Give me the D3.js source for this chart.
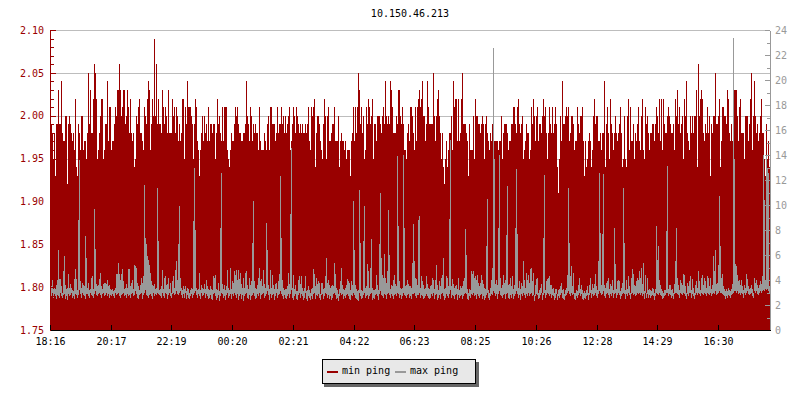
<!DOCTYPE html>
<html><head><meta charset="utf-8">
<style>html,body{margin:0;padding:0;background:#fff}svg{display:block}text{font-family:"DejaVu Sans Mono",monospace;font-size:10px}</style>
<script src="https://cdn.jsdelivr.net/npm/d3@7"></script></head><body><script>
const titleText="10.150.46.213";
const seriesNames=["min ping","max ping"];
const timeLabels=["18:16","20:17","22:19","00:20","02:21","04:22","06:23","08:25","10:26","12:28","14:29","16:30"];
const timeTickIndex=[0,61,121,182,243,304,364,425,486,547,607,668];
const leftTicks=[1.75,1.80,1.85,1.90,1.95,2.00,2.05,2.10];
const rightTicks=[0,2,4,6,8,10,12,14,16,18,20,22,24];
const minPing=[
1.99,1.99,1.98,1.95,1.98,1.93,1.99,1.99,2.03,1.99,1.99,2.04,1.98,1.97,1.97,2.00,2.00,1.92,1.99,2.00,
1.99,1.98,1.97,1.98,1.96,2.02,1.94,1.93,1.99,1.98,1.96,2.00,2.00,1.96,1.97,1.97,1.95,1.98,2.05,1.99,
2.03,1.98,1.98,2.02,2.06,2.05,2.02,1.95,1.96,1.98,2.00,2.02,2.02,1.95,1.96,1.99,1.99,2.04,1.97,2.01,
2.01,1.96,1.97,1.97,1.99,2.01,2.00,2.03,2.03,2.06,2.03,2.00,2.01,2.03,2.03,1.99,2.00,2.03,2.01,1.98,
2.02,1.98,1.97,1.98,1.94,1.95,2.00,1.99,2.01,2.02,1.98,1.98,1.97,1.96,2.01,2.00,1.99,2.02,2.04,2.03,
1.96,1.99,2.02,2.00,2.09,2.00,2.06,1.99,2.02,1.99,1.99,1.98,2.03,2.01,1.99,2.01,2.00,1.98,2.03,1.98,
1.98,1.98,2.02,2.00,2.01,1.98,2.01,2.00,1.97,1.99,1.97,1.98,2.02,2.02,1.95,2.01,1.99,2.04,2.01,2.01,
2.01,2.00,1.99,1.95,1.99,2.02,2.01,1.97,1.96,1.93,1.96,1.98,2.00,1.97,2.00,1.98,1.99,1.97,2.01,1.97,
1.99,1.99,1.98,1.99,1.99,1.95,1.98,2.02,1.99,2.00,1.98,1.97,2.01,1.97,2.01,2.01,2.01,1.96,1.95,1.94,
1.96,1.98,1.97,1.97,1.99,2.01,2.00,2.01,1.99,1.98,1.98,1.97,1.97,1.98,1.98,1.99,2.04,2.00,1.99,1.97,
2.01,2.00,1.97,1.99,1.98,1.99,1.98,1.98,1.96,2.01,1.97,1.96,1.96,1.96,1.98,1.97,1.96,1.99,2.00,1.96,
2.01,2.01,1.99,1.99,1.99,1.97,1.98,2.01,1.98,1.99,1.99,2.01,1.99,2.00,1.98,2.00,1.98,1.99,2.00,2.01,
1.96,1.97,1.99,2.01,2.00,1.98,2.01,2.00,1.99,1.98,1.99,1.98,1.99,1.98,1.98,1.99,1.98,1.99,2.01,1.97,
1.96,2.01,2.00,2.01,2.02,1.94,1.98,2.00,2.00,1.99,1.97,1.96,1.95,1.99,2.02,2.00,1.95,2.00,2.01,1.97,
1.97,1.98,1.99,1.99,2.01,1.97,1.97,1.97,2.00,1.94,1.97,1.98,1.97,1.97,1.96,1.97,1.95,1.96,1.96,1.96,
1.93,1.97,1.98,2.01,1.97,2.01,1.98,2.01,2.05,2.03,1.99,2.01,1.98,2.00,1.95,1.96,2.01,1.99,2.02,2.01,
1.99,2.00,2.02,1.95,1.99,1.99,1.97,2.00,2.00,2.00,1.99,1.98,2.00,2.01,1.99,2.04,2.00,1.99,2.00,1.99,
2.04,2.03,2.01,1.98,1.98,1.98,2.00,1.99,2.03,2.03,2.00,1.99,2.01,1.99,1.96,1.96,1.95,1.98,1.99,1.97,
2.01,2.01,2.00,1.98,1.96,2.01,1.97,2.01,2.02,2.03,2.01,2.02,2.04,2.00,2.00,1.97,1.99,2.04,2.01,1.99,
1.99,1.99,1.99,2.05,2.00,1.97,2.00,2.02,2.03,2.00,1.98,1.95,1.98,1.94,1.92,1.95,1.97,1.94,1.96,1.98,
1.98,2.00,1.96,2.04,2.01,2.02,2.02,1.97,2.02,1.97,1.98,2.02,2.05,1.99,1.99,1.99,1.98,1.97,1.93,1.99,
1.96,1.96,1.96,2.00,1.95,2.02,2.00,2.00,1.99,1.99,1.98,1.99,2.00,1.99,1.95,1.99,2.00,1.98,1.97,1.96,
1.98,1.97,1.99,1.97,1.97,1.97,1.97,1.97,1.96,1.97,1.97,2.00,1.95,1.98,1.99,1.99,1.99,1.98,1.96,1.97,
1.97,1.99,1.99,2.01,2.01,1.99,1.98,2.01,2.02,1.99,1.98,1.99,2.00,1.95,1.96,1.97,1.99,1.98,1.98,1.95,
1.96,2.01,1.99,2.02,2.00,1.97,2.00,2.01,1.97,1.99,1.99,1.98,2.00,2.02,2.00,2.01,1.98,1.95,1.98,2.01,
1.99,1.98,2.01,1.98,1.99,2.01,1.99,1.94,1.91,1.95,2.00,1.97,2.04,1.99,1.99,2.00,2.01,2.00,2.01,1.97,
1.98,2.00,2.00,1.99,1.96,1.97,1.97,2.01,1.99,1.98,2.00,2.00,2.01,1.97,1.93,1.97,1.94,1.95,1.97,1.98,
1.97,1.94,1.96,2.00,2.02,1.99,2.00,2.00,1.97,1.97,1.98,1.96,1.98,1.98,2.04,1.94,1.99,2.01,1.98,1.95,
2.02,1.99,1.98,1.96,1.98,2.00,1.98,1.97,1.98,1.99,2.01,1.98,1.94,1.95,2.00,1.95,1.94,2.00,2.02,1.96,
2.01,1.97,1.97,1.99,1.95,1.98,1.97,1.99,2.01,1.97,1.96,2.00,2.02,1.96,1.95,2.01,1.99,2.00,1.98,1.96,
1.98,1.98,1.99,1.99,1.97,1.99,2.01,2.00,1.98,2.02,1.97,2.02,1.96,2.02,1.99,1.98,1.98,2.00,2.01,2.00,
1.99,1.98,1.98,1.99,1.96,2.02,2.00,2.03,1.99,2.01,1.98,1.99,2.00,1.95,2.02,2.00,2.04,1.98,1.97,1.96,
2.00,1.98,2.00,1.98,2.00,2.00,2.03,1.94,2.06,2.00,2.02,2.03,2.02,1.98,1.97,1.99,1.98,2.01,1.98,2.00,
1.93,1.99,1.98,2.00,2.00,2.05,1.99,1.99,2.00,2.02,1.94,1.97,2.01,2.01,2.00,2.00,1.99,2.03,2.02,1.98,
1.97,1.99,1.97,2.00,2.03,2.03,2.03,2.00,1.97,2.01,2.02,1.98,1.98,1.98,1.95,2.00,2.00,2.00,1.97,1.99,
2.02,2.05,1.96,2.00,2.04,2.00,1.98,1.99,1.97,1.98,2.00,2.02,1.98,1.98,1.95,1.93,1.99,1.95,1.97,1.94];
const maxPing=[
3.0,3.5,4.1,3.3,3.4,3.3,3.6,4.0,6.4,4.1,4.1,3.5,3.0,4.7,5.9,3.6,3.3,3.4,4.5,3.4,
3.7,3.4,3.2,3.1,4.1,4.9,4.1,3.2,8.8,13.6,3.9,3.4,3.8,3.6,3.5,7.5,5.8,3.4,3.8,3.2,
3.3,4.2,4.3,3.3,9.7,6.5,3.7,3.5,3.6,4.1,4.6,3.5,3.3,3.7,3.8,3.8,3.7,4.0,3.5,3.6,
3.3,3.2,3.3,3.1,3.2,3.4,4.5,4.5,5.4,4.5,4.0,4.5,4.9,3.9,3.3,3.4,3.7,3.4,4.9,4.9,
3.5,3.8,4.0,3.3,5.2,5.1,5.0,3.8,3.5,3.2,3.6,4.2,3.8,4.3,11.6,7.4,6.9,5.9,5.6,5.2,
4.6,3.9,3.6,3.5,3.7,3.3,3.4,11.4,7.1,3.2,3.3,3.5,4.8,3.3,4.2,4.3,3.6,3.7,4.2,3.3,
3.8,3.0,3.9,4.3,3.4,4.8,5.5,4.0,6.9,9.9,4.2,3.4,3.2,3.5,3.3,3.5,3.1,3.4,3.3,3.0,
3.2,3.4,3.3,8.7,13.0,8.0,3.4,3.2,3.3,4.6,3.2,3.6,3.4,3.3,3.7,3.3,4.0,3.5,3.3,3.2,
3.5,3.3,3.2,4.3,4.2,4.4,3.3,3.2,3.8,3.1,8.2,12.6,3.7,3.3,3.6,3.2,3.5,4.8,3.4,3.2,
5.0,3.3,3.9,3.8,4.7,4.4,4.8,4.0,4.8,4.1,4.6,3.7,3.4,4.2,3.4,4.6,4.7,3.6,3.3,4.2,
3.6,3.9,7.0,10.3,3.9,3.4,3.3,3.6,4.2,5.0,3.9,4.1,3.5,4.8,3.7,3.4,8.6,6.4,3.6,3.3,
4.8,3.4,4.4,3.6,3.3,3.7,3.8,3.3,3.9,4.5,12.3,7.4,4.0,3.4,3.2,3.3,3.3,3.5,4.6,3.7,
9.3,14.6,3.4,4.4,3.3,3.6,3.1,3.1,4.0,4.3,3.7,4.3,3.4,3.1,3.4,4.3,3.1,3.2,3.5,3.2,
3.0,3.3,3.4,4.9,4.5,3.5,4.2,3.7,3.9,3.8,2.9,3.8,3.8,3.3,3.4,4.3,5.8,3.8,4.0,3.6,
3.4,3.5,3.6,3.5,5.4,4.5,3.4,3.2,2.9,3.3,3.9,5.0,3.6,3.3,3.2,3.4,3.6,4.1,3.9,3.8,
3.2,3.9,3.6,10.3,6.4,3.6,3.3,3.1,3.2,11.2,7.0,3.2,3.1,7.1,9.9,3.4,3.5,5.3,4.7,3.4,
5.0,7.3,3.4,3.2,3.2,3.3,4.4,3.6,3.2,6.9,11.0,5.8,4.4,4.2,6.1,4.2,3.8,4.7,9.6,6.0,
3.3,3.6,3.5,4.0,4.4,3.7,3.5,13.9,8.3,3.9,3.4,3.3,3.4,14.0,8.2,3.5,3.6,4.0,3.7,3.5,
3.5,3.4,5.4,8.5,5.5,4.2,4.1,3.6,8.8,9.1,3.4,4.3,3.9,3.6,3.3,3.4,4.3,3.7,3.4,3.3,
3.5,3.6,4.2,4.0,3.3,4.0,5.2,3.6,3.2,3.9,3.5,4.2,4.4,5.8,3.3,3.4,4.3,4.2,3.5,8.9,
15.2,3.5,4.1,3.7,3.4,3.5,3.6,3.3,4.2,3.2,3.5,3.4,3.5,3.9,4.2,8.1,6.0,3.3,3.0,3.3,
3.2,4.7,4.5,4.7,4.2,4.3,4.0,4.4,3.8,3.5,3.8,4.4,4.0,3.7,3.4,3.3,6.7,10.5,3.2,3.0,
3.4,4.0,5.0,22.6,13.7,3.7,4.0,3.6,8.2,14.0,4.2,3.4,3.6,4.4,3.8,4.0,7.6,11.5,3.6,3.7,
4.2,3.5,4.3,3.3,3.6,8.2,12.9,7.7,3.4,3.9,3.3,3.8,3.5,5.5,4.0,3.4,4.6,4.0,4.4,3.8,
4.9,5.0,3.9,4.6,2.8,3.6,4.1,4.2,3.0,3.2,3.4,3.7,3.0,7.4,12.4,3.2,3.9,4.1,4.2,4.3,
3.6,3.6,3.3,3.4,3.0,3.3,3.3,2.9,3.2,3.3,3.5,3.8,3.2,3.3,2.9,3.2,3.4,4.4,11.4,7.0,
4.3,5.1,3.5,4.6,3.0,3.0,3.2,3.1,3.6,4.2,3.3,3.6,3.2,3.0,3.1,3.0,3.2,3.5,3.0,3.6,
4.2,3.2,3.7,3.4,3.7,4.5,3.5,3.2,5.5,12.6,7.8,3.6,7.7,12.5,3.6,3.4,3.8,3.9,4.2,3.3,
3.7,3.5,4.0,3.2,8.2,5.3,3.3,3.9,4.0,3.9,3.1,3.4,3.8,11.4,7.0,3.2,4.0,3.3,4.3,3.5,
3.0,4.2,4.9,4.5,3.6,3.5,3.9,4.2,4.0,4.7,4.2,5.0,3.7,5.4,3.1,4.4,3.0,4.2,3.2,3.3,
3.2,3.1,3.4,3.3,3.0,3.3,8.3,5.6,6.7,4.0,3.6,3.3,3.1,3.0,3.2,3.2,7.9,13.1,3.3,3.6,
3.6,3.2,3.3,3.0,3.7,5.5,8.2,4.2,3.6,3.2,4.0,3.8,3.6,4.5,4.4,3.5,3.0,3.8,3.5,3.9,
4.3,3.2,4.1,3.4,3.0,3.6,3.9,3.4,4.7,3.9,3.2,4.2,4.4,3.6,4.2,3.9,3.4,4.3,4.2,3.5,
4.2,3.3,3.6,5.9,4.7,6.4,3.7,3.8,5.2,10.7,6.7,4.2,4.5,3.5,3.3,3.1,3.3,3.1,3.4,3.2,
3.1,3.3,3.7,23.4,13.7,5.3,5.1,4.4,3.9,4.0,3.6,4.0,3.5,3.2,3.6,3.4,4.5,4.1,3.5,3.3,
3.4,3.6,3.3,3.0,4.2,3.8,4.0,3.6,3.4,3.6,3.9,3.7,4.3,14.0,10.4,4.0,14.0,13.0,12.6,3.5];
const maxPingLow=[
2.8,2.7,3.0,2.6,2.9,2.7,2.5,2.8,2.7,2.6,3.0,2.7,2.6,2.8,2.9,2.5,2.7,2.4,2.9,2.7,
2.8,3.0,2.6,2.7,2.5,2.9,2.8,2.6,2.8,3.2,2.9,2.6,3.0,2.8,2.7,2.5,2.9,2.9,2.7,2.6,
3.0,2.8,2.7,2.6,2.9,3.1,2.8,2.7,2.9,3.0,2.8,2.6,2.9,3.0,2.7,2.8,3.0,2.7,2.9,2.6,
2.8,2.7,2.9,2.7,2.6,3.0,2.8,2.9,3.0,2.7,2.6,2.8,2.9,3.0,2.7,2.8,2.6,2.9,2.7,2.8,
2.6,2.9,3.0,2.7,2.8,3.1,2.9,2.6,2.5,2.8,2.9,3.0,2.5,2.8,3.0,3.2,2.8,2.7,2.6,2.8,
2.9,2.7,2.5,3.0,2.7,2.9,2.8,3.0,2.9,2.8,2.7,2.6,3.0,2.7,2.6,3.0,2.9,2.5,2.8,3.0,
2.7,2.6,2.9,3.0,2.8,2.9,3.1,2.9,2.8,3.0,3.1,2.8,2.6,2.9,2.6,3.0,2.5,2.8,2.6,2.5,
2.7,2.9,2.6,2.8,3.0,3.1,2.8,2.6,2.9,2.7,2.5,3.0,2.7,2.8,3.0,2.6,2.9,2.7,2.5,2.6,
2.8,2.5,2.4,2.9,3.0,2.7,2.4,2.6,2.8,2.3,2.7,3.0,2.9,2.6,2.7,2.4,2.8,3.0,2.6,2.7,
2.9,2.5,2.9,2.7,3.0,2.8,2.6,2.9,2.4,2.7,2.9,2.5,2.8,2.3,2.7,2.9,3.0,2.6,2.5,2.8,
2.4,2.7,2.8,3.0,2.7,2.5,2.6,2.9,2.7,3.0,2.5,2.8,2.9,3.0,2.6,2.7,2.9,3.1,2.8,2.4,
2.9,2.6,2.8,2.9,2.4,2.7,3.0,2.6,2.8,2.9,3.1,2.9,2.7,2.5,2.8,2.6,2.5,2.7,2.9,2.6,
2.9,3.2,2.6,2.4,2.7,2.9,2.5,2.4,2.8,3.0,2.6,2.9,2.7,2.4,2.6,3.0,2.5,2.3,2.7,2.6,
2.4,2.7,2.5,2.9,3.0,2.5,2.8,2.7,2.9,2.6,2.4,2.8,2.9,2.5,2.7,3.0,2.9,2.6,2.8,2.5,
2.7,2.4,2.6,2.9,3.0,2.8,2.5,2.6,2.3,2.7,3.0,2.8,2.9,2.5,2.7,2.6,2.8,2.9,2.7,2.5,
2.4,2.8,2.7,3.0,2.8,2.6,2.5,2.4,2.3,3.0,2.7,2.5,2.6,2.8,3.0,2.6,2.7,2.8,2.5,2.7,
2.9,3.0,2.4,2.6,2.5,2.8,2.9,2.7,2.4,2.9,3.1,2.8,2.7,2.6,2.9,2.8,2.5,2.9,3.0,2.8,
2.6,2.9,2.7,2.5,2.8,2.9,2.7,3.0,2.9,2.6,2.8,2.5,2.7,3.0,2.8,2.7,2.6,2.8,2.9,2.6,
2.7,2.5,2.9,2.9,3.0,2.7,2.6,2.8,2.8,3.0,2.6,2.8,2.7,2.5,2.6,2.7,2.9,2.7,2.6,2.5,
2.6,2.9,2.7,3.0,2.5,2.8,2.9,2.4,2.6,2.8,2.5,2.9,3.0,2.7,2.4,2.6,2.9,2.7,2.6,2.9,
3.2,2.6,2.8,2.7,2.5,2.8,2.9,2.4,2.8,2.6,2.7,2.8,2.5,2.7,2.9,3.0,2.9,2.5,2.4,2.7,
2.6,2.9,2.8,3.0,2.7,2.8,2.5,2.9,2.7,2.6,2.8,2.9,2.5,2.7,2.4,2.6,2.8,3.0,2.6,2.4,
2.7,2.9,2.8,3.1,3.0,2.7,2.9,2.5,2.9,3.1,2.8,2.7,2.6,2.8,2.9,2.5,2.9,3.0,2.6,2.5,
2.8,2.6,2.9,2.5,2.7,2.9,3.1,2.9,2.6,2.8,2.4,2.9,2.7,3.0,2.8,2.6,2.9,2.7,3.0,2.7,
2.9,3.0,2.7,2.8,2.3,2.7,2.9,2.8,2.5,2.6,2.8,3.0,2.4,2.8,3.0,2.6,2.8,3.0,2.9,2.7,
2.9,2.6,2.8,2.7,2.4,2.6,2.9,2.4,2.7,2.6,2.8,3.0,2.6,2.5,2.4,2.7,2.8,3.0,3.1,2.9,
2.7,3.0,2.8,2.9,2.5,2.4,2.7,2.6,2.8,3.0,2.7,2.9,2.5,2.4,2.6,2.5,2.7,2.8,2.4,2.8,
3.0,2.6,2.9,2.7,2.8,3.0,2.7,2.6,2.9,3.1,3.0,2.8,2.9,3.1,2.7,2.6,2.9,3.0,2.8,2.6,
2.9,2.7,3.0,2.6,2.9,3.0,2.6,2.8,3.0,2.8,2.5,2.7,2.9,3.0,2.9,2.5,2.9,2.7,3.0,2.8,
2.5,2.9,3.0,2.8,2.9,2.7,2.8,3.0,2.9,3.0,2.8,3.0,2.7,2.9,2.5,3.0,2.6,2.9,2.6,2.8,
2.6,2.7,2.8,2.7,2.4,2.7,3.0,2.9,2.8,3.0,2.8,2.7,2.5,2.6,2.7,2.8,3.0,3.0,2.7,2.9,
2.8,2.6,2.7,2.5,2.9,3.0,3.0,2.9,2.8,2.6,3.0,2.9,2.8,3.0,2.9,2.7,2.5,2.9,2.7,3.0,
3.0,2.6,2.9,2.7,2.5,2.8,3.0,2.8,3.0,2.9,2.7,3.0,2.9,2.8,3.0,2.9,2.7,3.0,2.9,2.8,
3.0,2.7,2.9,3.0,2.9,3.1,2.8,2.9,3.0,3.1,3.0,3.0,2.9,2.8,2.7,2.5,2.7,2.6,2.8,2.7,
2.6,2.8,2.9,3.0,3.1,3.1,3.0,3.1,2.9,3.0,2.8,3.0,2.9,2.6,3.0,2.8,3.0,3.1,2.9,2.8,
2.9,3.0,2.7,2.6,3.1,3.0,3.1,2.9,2.8,3.0,3.1,3.0,3.1,3.2,3.1,3.3,3.2,3.3,3.1,2.9];

const W=800,H=400,L=50,R=770,T=30,B=330,red="#990000",gray="#999999";
const svg=d3.select("body").append("svg").attr("width",W).attr("height",H).attr("viewBox",`0 0 ${W} ${H}`);
const x=d3.scaleLinear().domain([0,minPing.length]).range([L,R]);
const yL=d3.scaleLinear().domain([1.75,2.10]).range([B,T]);
const yR=d3.scaleLinear().domain([0,24]).range([B,T]);
const crisp=g=>g.attr("shape-rendering","crispEdges");

svg.append("text").attr("x",(L+R)/2).attr("y",17).attr("text-anchor","middle").attr("fill","#000").text(titleText);

svg.append("g").call(crisp).selectAll("line").data(leftTicks.slice(1)).join("line")
 .attr("x1",L).attr("x2",R).attr("y1",d=>Math.round(yL(d))+.5).attr("y2",d=>Math.round(yL(d))+.5).attr("stroke","#bdbdbd");

svg.append("g").call(crisp).selectAll("rect").data(minPing).join("rect")
 .attr("x",(d,i)=>x(i)).attr("width",1).attr("y",d=>yL(d)).attr("height",d=>B-yL(d)).attr("fill",red);
svg.append("g").call(crisp).selectAll("rect").data(maxPing).join("rect")
 .attr("x",(d,i)=>x(i)).attr("width",1).attr("y",d=>yR(d)).attr("height",(d,i)=>Math.max(1,yR(maxPingLow[i])-yR(d))).attr("fill",gray);

const styleAxis=(g,c)=>{g.selectAll("path,line").attr("stroke",c).attr("shape-rendering","crispEdges");g.selectAll("text").attr("fill",c).style("font-family",'"DejaVu Sans Mono",monospace').style("font-size","10px");};
const leftMinor=d3.range(0,36).map(k=>1.75+k*0.01);
svg.append("g").attr("transform",`translate(${L},0)`).call(d3.axisLeft(yL).tickValues(leftMinor).tickSizeInner(-4).tickSizeOuter(0).tickFormat("")).call(g=>styleAxis(g,red));
svg.append("g").attr("transform",`translate(${L},0)`).call(d3.axisLeft(yL).tickValues(leftTicks).tickSizeInner(-6).tickSizeOuter(0).tickPadding(7).tickFormat(d3.format(".2f")))
 .call(g=>styleAxis(g,red)).call(g=>g.selectAll("text").attr("x",-6).attr("text-anchor","end"));
const rightMinor=d3.range(0,25);
svg.append("g").attr("transform",`translate(${R},0)`).call(d3.axisRight(yR).tickValues(rightMinor).tickSizeInner(-3).tickSizeOuter(0).tickFormat("")).call(g=>styleAxis(g,gray));
svg.append("g").attr("transform",`translate(${R},0)`).call(d3.axisRight(yR).tickValues(rightTicks).tickSizeInner(-5).tickSizeOuter(0).tickFormat(d=>d))
 .call(g=>styleAxis(g,gray)).call(g=>g.selectAll("text").attr("x",5).attr("text-anchor","start"));
svg.append("g").attr("transform",`translate(0,${B})`).call(d3.axisBottom(x).tickValues(timeTickIndex).tickSizeInner(-5).tickSizeOuter(0).tickFormat((d,i)=>timeLabels[i]))
 .call(g=>styleAxis(g,"#000")).call(g=>g.selectAll("text").attr("y",15).attr("dy",0));

const lg=svg.append("g");
lg.append("rect").attr("x",324).attr("y",362).attr("width",155).attr("height",25).attr("fill","#666").call(crisp);
lg.append("rect").attr("x",322.5).attr("y",359.5).attr("width",153).attr("height",24).attr("fill","#e8e8e8").attr("stroke","#000").call(crisp);
[[327,342,red],[395,410,gray]].forEach(([sx,tx,c],i)=>{
 lg.append("rect").attr("x",sx).attr("y",371).attr("width",11).attr("height",2).attr("fill",c).call(crisp);
 lg.append("text").attr("x",tx).attr("y",374).attr("fill","#000").text(seriesNames[i]);
});
</script></body></html>
